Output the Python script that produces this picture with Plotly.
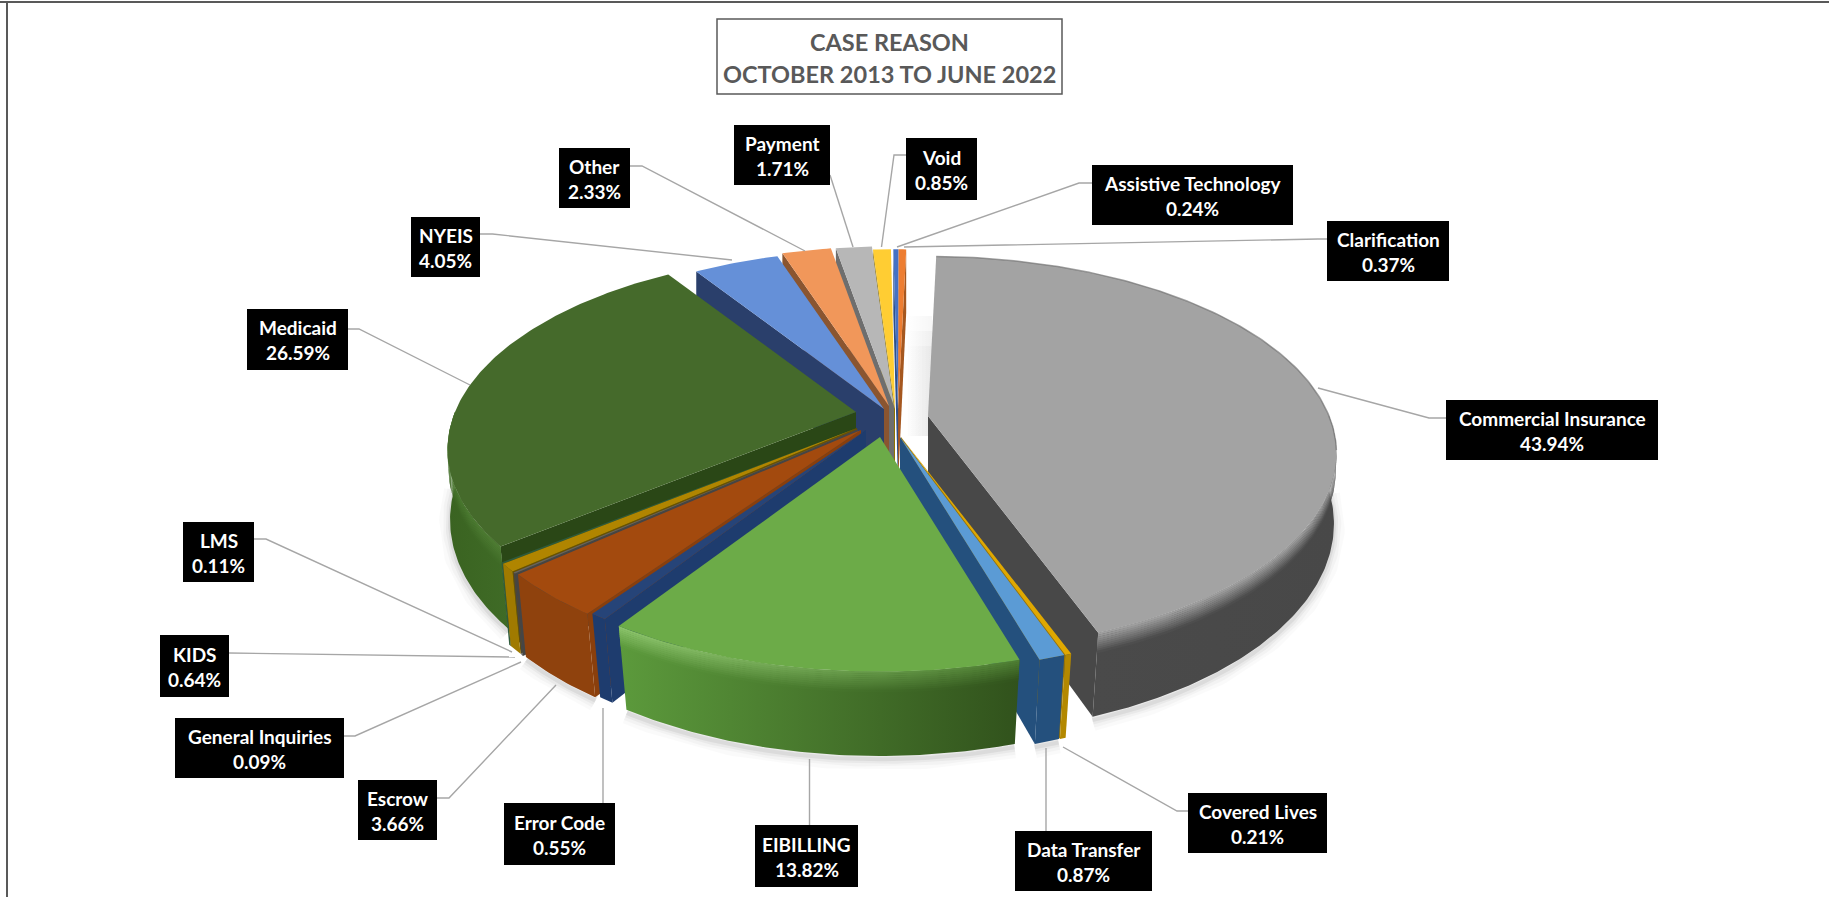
import numpy as np
import plotly.graph_objects as go

# Share of cases per reason, clockwise from the top of the pie
categories = ["Assistive Technology", "Clarification", "Commercial Insurance", "Covered Lives",
              "Data Transfer", "EIBILLING", "Error Code", "Escrow", "General Inquiries", "KIDS",
              "LMS", "Medicaid", "NYEIS", "Other", "Payment", "Void"]
shares = [0.24, 0.37, 43.94, 0.21, 0.87, 13.82, 0.55, 3.66, 0.09, 0.64, 0.11, 26.59, 4.05, 2.33, 1.71, 0.85]

# Face colours for each slice
top_colors = ["#4472C4", "#ED7D31", "#A3A3A3", "#E0A800", "#5B9BD5", "#6CAB48", "#264478", "#A34A0E",
              "#636363", "#B08500", "#2F5B3C", "#456A2B", "#6590D8", "#F1975A", "#B7B7B7", "#FFCD33"]
edge_colors = ["#2F4F88", "#A5571F", "#484848", "#9C7500", "#24507D", "#3F6A27", "#1E3C6E", "#8A3F0C",
               "#454545", "#6B5000", "#2A4716", "#2A4716", "#2A3F6B", "#8A5530", "#6E6E6E", "#8E7300"]
wall_left = ["#2F4F88", "#A5571F", "#4A4A4A", "#B38800", "#24507D", "#5C9A3C", "#1E3C6E", "#8F420D",
             "#454545", "#A07A00", "#2F5B3C", "#3A6321", "#2A3F6B", "#8A5530", "#6E6E6E", "#8E7300"]
wall_right = ["#2F4F88", "#A5571F", "#484848", "#B38800", "#24507D", "#31521C", "#1E3C6E", "#8F420D",
              "#454545", "#A07A00", "#2F5B3C", "#3F6B26", "#2A3F6B", "#8A5530", "#6E6E6E", "#8E7300"]
# Rim highlight as left and right colour
rim_colors = {"Commercial Insurance": ("#A3A3A3", "#A3A3A3"),
              "EIBILLING": ("#8CC46C", "#4E7F33"),
              "Medicaid": ("#4A7A30", "#4F7D34")}

# Where each slice's point sits once it has been pulled out of the pie
apex_x = [898, 898, 928, 901, 900, 880, 866, 861, 858, 857, 857, 856, 884, 889, 894, 895]
apex_y = [409, 409, 416, 437, 437, 437, 430, 430, 429, 428, 428, 412, 409, 406, 406, 409]

# Back-to-front drawing sequence
draw_order = ["Clarification", "Assistive Technology", "Void", "Payment", "Other", "NYEIS", "Medicaid",
              "LMS", "KIDS", "General Inquiries", "Escrow", "Error Code", "Commercial Insurance",
              "Covered Lives", "Data Transfer", "EIBILLING"]

# Label boxes as left, right, top, bottom
label_boxes = {
    "Assistive Technology": (1092, 1293, 165, 225), "Clarification": (1327, 1449, 221, 281),
    "Commercial Insurance": (1446, 1658, 400, 460), "Covered Lives": (1188, 1327, 793, 853),
    "Data Transfer": (1015, 1152, 831, 891), "EIBILLING": (755, 858, 825, 887),
    "Error Code": (504, 615, 803, 865), "Escrow": (358, 437, 780, 840),
    "General Inquiries": (175, 344, 718, 778), "KIDS": (160, 229, 635, 697),
    "LMS": (183, 254, 522, 582), "Medicaid": (247, 348, 309, 370),
    "NYEIS": (411, 480, 217, 277), "Other": (559, 630, 148, 208),
    "Payment": (734, 830, 125, 185), "Void": (906, 977, 138, 200),
}
leader_paths = [
    [(830, 175), (853, 247)], [(906, 155), (894, 155), (881.5, 247)],
    [(630, 166), (642, 166), (805, 251)], [(480, 234), (492.5, 234), (732, 260)],
    [(1092, 183), (1079, 183), (897, 247)], [(1327, 239), (1318, 239), (904, 247)],
    [(1446, 418), (1429, 418), (1318, 388)], [(348, 329), (359, 329), (470, 385)],
    [(254, 539), (266, 539), (512, 652)], [(229, 653), (515, 657)],
    [(344, 736), (355, 736), (521, 662)], [(437, 798), (449, 798), (556, 685)],
    [(603, 803), (603, 708)], [(809.5, 825), (809.5, 759)], [(1046, 831), (1046, 748)],
    [(1188, 811), (1177, 811), (1063, 747)],
]

title_lines = ["CASE REASON", "OCTOBER 2013 TO JUNE 2022"]

START_ANGLE = -0.8
RADIUS_X, RADIUS_Y = 401.0, 190.0
PERSPECTIVE = 0.19
DEPTH = 75.0
BASE_TAPER = 0.035
WIDTH, HEIGHT = 1829, 897


def project(ax, ay, theta, radius=1.0, drop=0.0):
    """Map a point of the tilted pie onto the page; the base narrows towards the viewer."""
    t = np.radians(theta)
    u, v = radius * np.sin(t), radius * np.cos(t)
    s = 1.0 / (1.0 + PERSPECTIVE * v)
    taper = 1.0 - BASE_TAPER * (drop / DEPTH) * np.clip(-v, 0.0, 1.0)
    return ax + RADIUS_X * u * s * taper, ay - RADIUS_Y * v * s * taper + drop * s


def blend(a, b, f):
    ca = [int(a[i:i + 2], 16) for i in (1, 3, 5)]
    cb = [int(b[i:i + 2], 16) for i in (1, 3, 5)]
    return "#" + "".join(f"{round(x + (y - x) * f):02X}" for x, y in zip(ca, cb))


fig = go.Figure()


def polygon(xs, ys, color=None, gradient=None):
    kw = dict(x=list(xs), y=list(ys), mode="lines", fill="toself", line=dict(width=0),
              hoverinfo="skip", showlegend=False)
    if gradient:
        kw["fillgradient"] = dict(type="horizontal", colorscale=[[0, gradient[0]], [1, gradient[1]]])
    else:
        kw["fillcolor"] = color
    fig.add_trace(go.Scatter(**kw))


def arc_angles(a, b):
    n = max(3, int(abs(b - a) / 0.7) + 2)
    return np.linspace(a, b, n)


def near_part(a, b):
    """Part of an angular span lying on the viewer's side of the pie."""
    for shift in (-360, 0, 360):
        lo, hi = max(a, 90 + shift), min(b, 270 + shift)
        if lo < hi:
            return lo, hi
    return None


# Running angle of every slice, clockwise from the start angle
spans = {}
angle = START_ANGLE
for name, share in zip(categories, shares):
    spans[name] = (angle, angle + share * 3.6)
    angle += share * 3.6
index = {name: i for i, name in enumerate(categories)}

# Soft shadow thrown onto the page below the rim
for width, alpha in [(22, 0.018), (15, 0.028), (9, 0.04), (4, 0.06)]:
    for name in ("Commercial Insurance", "EIBILLING", "Medicaid", "Escrow", "Data Transfer"):
        i = index[name]
        part = near_part(*spans[name])
        th = arc_angles(*part)
        px, py = project(apex_x[i], apex_y[i], th, 1.0, DEPTH + 3)
        fig.add_trace(go.Scatter(x=px, y=py, mode="lines", hoverinfo="skip", showlegend=False,
                                 line=dict(color=f"rgba(0,0,0,{alpha})", width=width)))

# Faint shadow in the gap beside the largest slice
gi = index["Commercial Insurance"]
gx, gy = apex_x[gi], apex_y[gi]
for rise, alpha in [(100, 0.035), (85, 0.03), (70, 0.03)]:
    polygon([gx - 22, gx + 4, gx + 4, gx - 22], [gy - rise, gy - rise, gy + 20, gy + 20],
            gradient=("rgba(0,0,0,0)", f"rgba(0,0,0,{alpha})"))

for name in draw_order:
    i = index[name]
    ax, ay = apex_x[i], apex_y[i]
    a, b = spans[name]
    th = arc_angles(a, b)

    # Radial walls, keeping only the ones turned towards the viewer
    mid_x, mid_y = project(ax, ay, (a + b) / 2)
    for edge in (a, b):
        cx, cy = project(ax, ay, edge)
        nx, ny = -(cy - ay), cx - ax
        if nx * (mid_x - ax) + ny * (mid_y - ay) > 0:
            nx, ny = -nx, -ny
        if ny > 0:
            bx, by = project(ax, ay, edge, 1.0, DEPTH)
            polygon([ax, cx, bx, ax, ax], [ay, cy, by, ay + DEPTH, ay], color=edge_colors[i])

    # Outer wall along the near rim
    part = near_part(a, b)
    if part:
        ph = arc_angles(*part)
        tx, ty = project(ax, ay, ph)
        bx, by = project(ax, ay, ph, 1.0, DEPTH)
        polygon(np.r_[tx, bx[::-1], tx[0]], np.r_[ty, by[::-1], ty[0]],
                gradient=(wall_left[i], wall_right[i]))
        # Bevel fading from the rim into the wall
        if name in rim_colors:
            steps = 10
            for k in range(steps):
                d0, d1 = k * 1.8, (k + 1) * 1.8 + 0.4
                ux, uy = project(ax, ay, ph, 1.0, d0)
                lx, ly = project(ax, ay, ph, 1.0, d1)
                f = (k + 0.5) / steps
                polygon(np.r_[ux, lx[::-1], ux[0]], np.r_[uy, ly[::-1], uy[0]],
                        gradient=(blend(rim_colors[name][0], wall_left[i], f),
                                  blend(rim_colors[name][1], wall_right[i], f)))

    # Top face
    tx, ty = project(ax, ay, th)
    polygon(np.r_[ax, tx, ax], np.r_[ay, ty, ay], color=top_colors[i])

# Thin darker edge on the far rim of the largest slice
a, b = spans["Commercial Insurance"]
tx, ty = project(gx, gy, arc_angles(a, min(b, 100)))
fig.add_trace(go.Scatter(x=tx, y=ty, mode="lines", hoverinfo="skip", showlegend=False,
                         line=dict(color="rgba(110,110,110,0.65)", width=1.5)))

# Leader lines from the labels to the slices
lx, ly = [], []
for path in leader_paths:
    lx += [p[0] for p in path] + [None]
    ly += [p[1] for p in path] + [None]
fig.add_trace(go.Scatter(x=lx, y=ly, mode="lines", hoverinfo="skip", showlegend=False,
                         line=dict(color="#A6A6A6", width=1.4)))

shapes, annotations = [], []
LABEL_FONT = dict(family="Lato", size=19, color="#FFFFFF", weight="bold")
for name, share in zip(categories, shares):
    x0, x1, y0, y1 = label_boxes[name]
    shapes.append(dict(type="rect", x0=x0, x1=x1, y0=y0, y1=y1, xref="x", yref="y",
                       fillcolor="#000000", line=dict(width=0), layer="above"))
    cx, cy = (x0 + x1) / 2, (y0 + y1) / 2
    for text, off in ((name, -12), (f"{share:.2f}%", 13)):
        annotations.append(dict(x=cx, y=cy + off, text=text, showarrow=False, xref="x", yref="y",
                                xanchor="center", yanchor="middle", font=LABEL_FONT))

# Title box
shapes.append(dict(type="rect", x0=717, x1=1062, y0=19, y1=94, xref="x", yref="y",
                   fillcolor="#FFFFFF", line=dict(color="#595959", width=1.5), layer="above"))
for text, y in zip(title_lines, (42, 74)):
    annotations.append(dict(x=889.5, y=y, text=text, showarrow=False, xref="x", yref="y",
                            xanchor="center", yanchor="middle",
                            font=dict(family="Lato", size=23.5, color="#595959", weight="bold")))

# Frame around the page
shapes.append(dict(type="line", x0=0, x1=WIDTH, y0=2, y1=2, xref="x", yref="y",
                   line=dict(color="#595959", width=2), layer="above"))
shapes.append(dict(type="line", x0=7, x1=7, y0=2, y1=HEIGHT, xref="x", yref="y",
                   line=dict(color="#595959", width=2), layer="above"))

fig.update_layout(
    width=WIDTH, height=HEIGHT, margin=dict(l=0, r=0, t=0, b=0),
    paper_bgcolor="#FFFFFF", plot_bgcolor="#FFFFFF", showlegend=False,
    xaxis=dict(range=[0, WIDTH], visible=False, fixedrange=True),
    yaxis=dict(range=[HEIGHT, 0], visible=False, fixedrange=True),
    shapes=shapes, annotations=annotations,
)
fig.write_html("out.html", config={"displayModeBar": False})
